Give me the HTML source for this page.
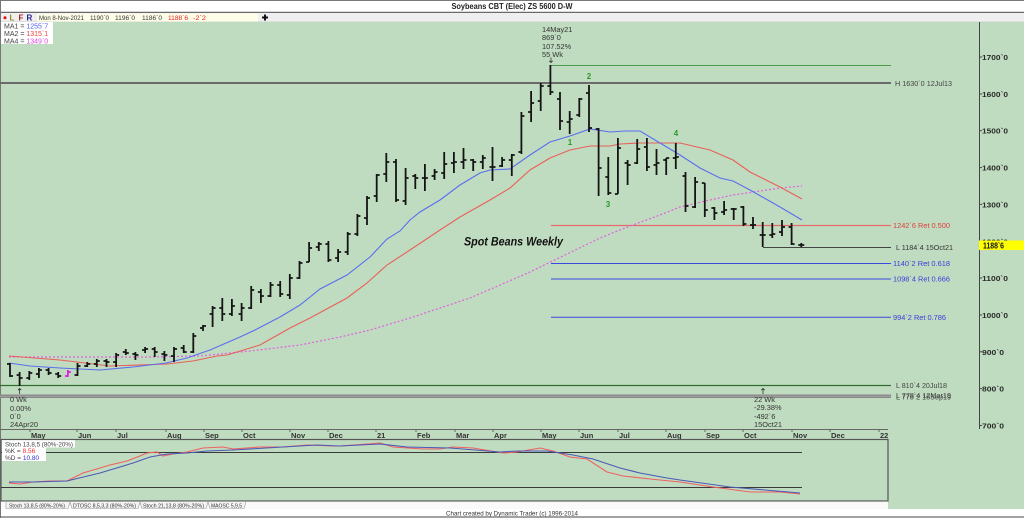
<!DOCTYPE html>
<html><head><meta charset="utf-8"><style>
html,body{margin:0;padding:0;background:#fff;}
svg{display:block;font-family:"Liberation Sans",sans-serif;}
</style></head><body>
<svg width="1024" height="518" viewBox="0 0 1024 518" xmlns="http://www.w3.org/2000/svg">
<rect x="0" y="0" width="1024" height="518" fill="#fff"/>
<line x1="0" y1="0.5" x2="1024" y2="0.5" stroke="#7a7a7a"/>
<text x="512" y="9" text-anchor="middle" font-size="8" font-weight="bold" fill="#222" textLength="121" lengthAdjust="spacingAndGlyphs">Soybeans CBT (Elec) ZS 5600 D-W</text>
<line x1="0" y1="12.5" x2="1024" y2="12.5" stroke="#6a6a6a" stroke-width="1.5"/>
<rect x="0" y="13" width="1024" height="9" fill="#efefef"/>
<line x1="0" y1="21.8" x2="1024" y2="21.8" stroke="#d8d8d8" stroke-width="0.8"/>
<circle cx="5" cy="17.7" r="1.5" fill="#e01010"/>
<text x="9.5" y="20.5" font-size="8" font-weight="bold" fill="#8c8c1e">L</text>
<text x="18.5" y="20.5" font-size="8" font-weight="bold" fill="#a82020">F</text>
<text x="26.5" y="20.5" font-size="8" font-weight="bold" fill="#20208c">R</text>
<rect x="37" y="13.5" width="221" height="8" fill="#fefee8"/>
<g font-size="6.8" fill="#333">
<text x="39" y="20" textLength="45" lengthAdjust="spacingAndGlyphs">Mon 8-Nov-2021</text>
<text x="90" y="20" textLength="19" lengthAdjust="spacingAndGlyphs">1190`0</text>
<text x="115" y="20" textLength="20" lengthAdjust="spacingAndGlyphs">1196`0</text>
<text x="142" y="20" textLength="20" lengthAdjust="spacingAndGlyphs">1186`0</text>
<text x="168" y="20" textLength="20" lengthAdjust="spacingAndGlyphs" fill="#e02020">1188`6</text>
<text x="193" y="20" textLength="13" lengthAdjust="spacingAndGlyphs" fill="#e02020">-2`2</text>
</g>
<path d="M262 17.5h6M265 14.5v6" stroke="#111" stroke-width="2"/>
<!-- main green -->
<rect x="1" y="22" width="1023" height="487" fill="#c0dcc0"/>
<line x1="0.5" y1="0" x2="0.5" y2="518" stroke="#777"/>
<!-- MA legend -->
<rect x="1" y="22" width="52" height="22" fill="#fff"/>
<g font-size="7" fill="#444">
<text x="4" y="28.5">MA1 = <tspan fill="#4a5cf0">1255`7</tspan></text>
<text x="4" y="36">MA2 = <tspan fill="#f04040">1315`1</tspan></text>
<text x="4" y="43.5">MA4 = <tspan fill="#e040e0">1349`0</tspan></text>
</g>
<!-- horizontal reference lines -->
<line x1="551" y1="65.5" x2="891" y2="65.5" stroke="#4c9c4c" stroke-width="1"/>
<line x1="0" y1="83" x2="891" y2="83" stroke="#6a6a6a" stroke-width="2"/>
<line x1="551" y1="225.5" x2="891" y2="225.5" stroke="#e66c6c" stroke-width="1.3"/>
<line x1="763" y1="247.5" x2="891" y2="247.5" stroke="#444" stroke-width="1"/>
<line x1="551" y1="263.5" x2="891" y2="263.5" stroke="#3a48e0" stroke-width="1"/>
<line x1="551" y1="279" x2="891" y2="279" stroke="#3a48e0" stroke-width="1"/>
<line x1="551" y1="317.3" x2="891" y2="317.3" stroke="#3a48e0" stroke-width="1"/>
<line x1="0" y1="385.5" x2="891" y2="385.5" stroke="#2e6e2e" stroke-width="1.2"/>
<rect x="0" y="394.5" width="891" height="3.5" fill="#8a8a8a"/>
<line x1="0" y1="396.2" x2="891" y2="396.2" stroke="#b0b0b0" stroke-width="0.6"/>
<g font-size="7.4">
<text x="895" y="86" fill="#444" textLength="57" lengthAdjust="spacingAndGlyphs">H 1630`0 12Jul13</text>
<text x="893" y="228" fill="#e03c3c" textLength="57" lengthAdjust="spacingAndGlyphs">1242`6 Ret 0.500</text>
<text x="896" y="250" fill="#333" textLength="57" lengthAdjust="spacingAndGlyphs">L 1184`4 15Oct21</text>
<text x="893" y="266" fill="#3c3cdc" textLength="57" lengthAdjust="spacingAndGlyphs">1140`2 Ret 0.618</text>
<text x="893" y="281.5" fill="#3c3cdc" textLength="57" lengthAdjust="spacingAndGlyphs">1098`4 Ret 0.666</text>
<text x="893" y="320" fill="#3c3cdc" textLength="53" lengthAdjust="spacingAndGlyphs">994`2 Ret 0.786</text>
<text x="896" y="388" fill="#444" textLength="51" lengthAdjust="spacingAndGlyphs">L 810`4 20Jul18</text>
<text x="896" y="398" fill="#444" textLength="55" lengthAdjust="spacingAndGlyphs">L 778`4 12Mar19</text>
<text x="896" y="399.5" fill="#444" textLength="55" lengthAdjust="spacingAndGlyphs">L 776`2 16Sep19</text>
</g>
<!-- moving averages -->
<polyline fill="none" stroke="#e060e0" stroke-width="1.2" stroke-dasharray="2,2" points="9,357 150,357 200,356 250,351 300,345 340,337 370,330 410,318 470,298 530,272 600,238 630,226 660,215 680,207 710,200 733,195 760,191 780,188 802,186"/>
<polyline fill="none" stroke="#e8605a" stroke-width="1.1" points="9,356 60,360 110,366 167,364 193,361 217,356 227,355 260,345 290,328 310,318 347,298 367,283 387,265 410,250 440,230 460,217 490,200 510,188 530,170 550,158 570,150 590,146 610,146 620,144 640,143 680,143 710,150 733,160 750,172 780,187 802,199"/>
<polyline fill="none" stroke="#5a6ef0" stroke-width="1.1" points="9,363 30,366 60,368 100,370 133,367 166,363 187,358 210,350 240,337 255,330 280,317 300,305 320,289 347,275 370,257 387,239 400,231 410,220 420,212 440,200 460,185 480,173 490,170 510,169 530,155 550,142 570,136 590,129 610,132 625,131 640,131 660,143 680,155 700,168 720,178 733,181 750,190 780,207 802,220"/>
<!-- bars -->
<path fill="none" stroke="#141414" stroke-width="1.8" d="M10 363V377M7 364h3M10 376h3M19.6 372V386M16.6 375h3M19.6 378h3M29.3 371V380M26.3 378h3M29.3 373h3M38.9 368V378M35.9 374h3M38.9 370h3M48.6 368V375M45.6 370h3M48.6 373h3M58.2 372V378M55.2 374h3M58.2 376h3M77.5 363V376M74.5 375h3M77.5 366h3M87.2 362V367M84.2 366h3M87.2 364h3M96.8 359V367M93.8 364h3M96.8 361h3M106.5 359V367M103.5 361h3M106.5 362h3M116.1 353V367M113.1 362h3M116.1 355h3M125.8 349V355M122.8 352h3M125.8 353h3M135.4 352V360M132.4 354h3M135.4 355h3M145.1 347V353M142.1 350h3M145.1 349h3M154.7 347V357M151.7 349h3M154.7 352h3M164.4 351V361M161.4 354h3M164.4 355h3M174 347V362M171 356h3M174 349h3M183.7 345V353M180.7 348h3M183.7 352h3M193.3 333V353M190.3 352h3M193.3 336h3M203 325V331M200 328h3M203 326h3M212.6 306V327M209.6 314h3M212.6 308h3M222.3 298V321M219.3 308h3M222.3 314h3M231.9 299V316M228.9 314h3M231.9 306h3M241.6 303V321M238.6 314h3M241.6 308h3M251.2 286V309M248.2 308h3M251.2 290h3M260.9 289V303M257.9 292h3M260.9 296h3M270.5 282V297M267.5 296h3M270.5 285h3M280.2 281V297M277.2 285h3M280.2 294h3M289.8 274V299M286.8 295h3M289.8 278h3M299.5 261V279M296.5 278h3M299.5 263h3M309.1 242V262M306.1 262h3M309.1 248h3M318.8 242V251M315.8 247h3M318.8 244h3M328.4 241V262M325.4 244h3M328.4 260h3M338.1 249V262M335.1 258h3M338.1 252h3M347.7 232V255M344.7 252h3M347.7 234h3M357.4 214V236M354.4 234h3M357.4 216h3M367 196V225M364 218h3M367 198h3M376.7 174V202M373.7 196h3M376.7 175h3M386.3 153V182M383.3 174h3M386.3 162h3M396 159V202M393 162h3M396 200h3M405.6 168V205M402.6 201h3M405.6 178h3M415.3 174V189M412.3 176h3M415.3 178h3M424.9 164V191M421.9 178h3M424.9 178h3M434.6 169V180M431.6 176h3M434.6 172h3M444.2 152V179M441.2 173h3M444.2 164h3M453.9 152V173M450.9 163h3M453.9 162h3M463.5 148V169M460.5 162h3M463.5 160h3M473.2 159V171M470.2 160h3M473.2 162h3M482.8 155V169M479.8 162h3M482.8 158h3M492.5 147V181M489.5 167h3M492.5 167h3M502.1 157V167M499.1 166h3M502.1 160h3M511.8 154V176M508.8 160h3M511.8 155h3M521.4 112V154M518.4 152h3M521.4 116h3M531.1 91V122M528.1 112h3M531.1 103h3M540.7 83V111M537.7 101h3M540.7 86h3M550.4 65V95M547.4 86h3M550.4 92h3M560 92V130M557 99h3M560 121h3M569.7 111V134M566.7 122h3M569.7 119h3M579.3 98V117M576.3 115h3M579.3 99h3M589 85V132M586 93h3M589 128h3M598.6 128V196M595.6 129h3M598.6 168h3M608.3 157V195M605.3 177h3M608.3 193h3M617.9 138V194M614.9 194h3M617.9 148h3M627.6 160V185M624.6 163h3M627.6 165h3M637.2 139V164M634.2 163h3M637.2 149h3M646.9 138V171M643.9 147h3M646.9 167h3M656.5 149V175M653.5 165h3M656.5 163h3M666.2 158V175M663.2 160h3M666.2 158h3M675.8 143V169M672.8 158h3M675.8 157h3M685.5 172V212M682.5 176h3M685.5 206h3M695.1 177V208M692.1 207h3M695.1 182h3M704.8 183V217M701.8 183h3M704.8 210h3M714.4 207V220M711.4 208h3M714.4 213h3M724.1 201V215M721.1 212h3M724.1 210h3M733.7 208V220M730.7 209h3M733.7 209h3M743.4 206V226M740.4 207h3M743.4 224h3M753 217V229M750 225h3M753 225h3M762.7 222V247M759.7 235h3M762.7 235h3M772.3 223V238M769.3 235h3M772.3 234h3M782 220V236M779 232h3M782 227h3M791.6 223V245M788.6 227h3M791.6 244h3M801.3 243V247M798.3 245h3M801.3 245h3"/>
<path fill="none" stroke="#e020e0" stroke-width="1.8" d="M67.9 370V377M64.9 376h3M67.9 372h3"/>
<!-- wave labels -->
<g font-size="8" font-weight="bold" fill="#2a9a2a" text-anchor="middle">
<text x="570" y="145">1</text>
<text x="589" y="79">2</text>
<text x="608" y="207">3</text>
<text x="676" y="136">4</text>
</g>
<text x="464" y="245.5" font-size="12" font-weight="bold" font-style="italic" fill="#111" textLength="99" lengthAdjust="spacingAndGlyphs">Spot Beans Weekly</text>
<!-- annotations -->
<g font-size="7.4" fill="#333">
<text x="542" y="32">14May21</text>
<text x="542" y="40">869`0</text>
<text x="542" y="49">107.52%</text>
<text x="542" y="57">55 Wk</text>
<text x="10" y="402">0 Wk</text>
<text x="10" y="411">0.00%</text>
<text x="10" y="419">0`0</text>
<text x="10" y="427">24Apr20</text>
<text x="754" y="402">22 Wk</text>
<text x="754" y="410">-29.38%</text>
<text x="754" y="419">-492`6</text>
<text x="754" y="427">15Oct21</text>
</g>
<path d="M551 57.5V62.5M549.3 60.8l1.7 1.7 1.7-1.7M19.6 388.5V394M17.9 390.2l1.7-1.7 1.7 1.7M763 388.5V394M761.3 390.2l1.7-1.7 1.7 1.7" fill="none" stroke="#333" stroke-width="0.8"/>
<!-- price axis -->
<line x1="979.5" y1="22" x2="979.5" y2="429" stroke="#444" stroke-width="1"/>
<g stroke="#444" stroke-width="1">
<line x1="979" y1="57" x2="982" y2="57"/><line x1="979" y1="94" x2="982" y2="94"/><line x1="979" y1="130.7" x2="982" y2="130.7"/><line x1="979" y1="167.6" x2="982" y2="167.6"/><line x1="979" y1="204.4" x2="982" y2="204.4"/><line x1="979" y1="241.3" x2="982" y2="241.3"/><line x1="979" y1="278" x2="982" y2="278"/><line x1="979" y1="315" x2="982" y2="315"/><line x1="979" y1="351.8" x2="982" y2="351.8"/><line x1="979" y1="388.7" x2="982" y2="388.7"/><line x1="979" y1="425.5" x2="982" y2="425.5"/>
</g>
<g font-size="7.6" font-weight="bold" fill="#2a2a2a">
<text x="982" y="60" textLength="26" lengthAdjust="spacingAndGlyphs">1700`0</text>
<text x="982" y="97" textLength="26" lengthAdjust="spacingAndGlyphs">1600`0</text>
<text x="982" y="133.7" textLength="26" lengthAdjust="spacingAndGlyphs">1500`0</text>
<text x="982" y="170.6" textLength="26" lengthAdjust="spacingAndGlyphs">1400`0</text>
<text x="982" y="207.4" textLength="26" lengthAdjust="spacingAndGlyphs">1300`0</text>
<text x="982" y="244.3" textLength="26" lengthAdjust="spacingAndGlyphs">1200`0</text>
<text x="982" y="281" textLength="26" lengthAdjust="spacingAndGlyphs">1100`0</text>
<text x="982" y="318" textLength="26" lengthAdjust="spacingAndGlyphs">1000`0</text>
<text x="982" y="354.8" textLength="22" lengthAdjust="spacingAndGlyphs">900`0</text>
<text x="982" y="391.7" textLength="22" lengthAdjust="spacingAndGlyphs">800`0</text>
<text x="982" y="428.5" textLength="22" lengthAdjust="spacingAndGlyphs">700`0</text>
</g>
<rect x="979" y="240.5" width="45" height="9.5" fill="#ffff00"/>
<text x="983" y="248.3" font-size="8" font-weight="bold" fill="#111" textLength="21" lengthAdjust="spacingAndGlyphs">1188`6</text>
<!-- month axis -->
<line x1="0" y1="429.5" x2="888" y2="429.5" stroke="#666" stroke-width="1"/>
<g stroke="#666" stroke-width="1">
<line x1="30" y1="429" x2="30" y2="432"/><line x1="77" y1="429" x2="77" y2="432"/><line x1="116" y1="429" x2="116" y2="432"/><line x1="166" y1="429" x2="166" y2="432"/><line x1="204" y1="429" x2="204" y2="432"/><line x1="242" y1="429" x2="242" y2="432"/><line x1="290" y1="429" x2="290" y2="432"/><line x1="328" y1="429" x2="328" y2="432"/><line x1="376" y1="429" x2="376" y2="432"/><line x1="416" y1="429" x2="416" y2="432"/><line x1="455" y1="429" x2="455" y2="432"/><line x1="493" y1="429" x2="493" y2="432"/><line x1="541" y1="429" x2="541" y2="432"/><line x1="579" y1="429" x2="579" y2="432"/><line x1="618" y1="429" x2="618" y2="432"/><line x1="666" y1="429" x2="666" y2="432"/><line x1="705" y1="429" x2="705" y2="432"/><line x1="743" y1="429" x2="743" y2="432"/><line x1="792" y1="429" x2="792" y2="432"/><line x1="830" y1="429" x2="830" y2="432"/><line x1="879" y1="429" x2="879" y2="432"/>
</g>
<g font-size="7.5" font-weight="bold" fill="#333">
<text x="31" y="438">May</text><text x="78" y="438">Jun</text><text x="117" y="438">Jul</text><text x="167" y="438">Aug</text><text x="205" y="438">Sep</text><text x="243" y="438">Oct</text><text x="291" y="438">Nov</text><text x="329" y="438">Dec</text><text x="377" y="438">21</text><text x="417" y="438">Feb</text><text x="456" y="438">Mar</text><text x="494" y="438">Apr</text><text x="542" y="438">May</text><text x="580" y="438">Jun</text><text x="619" y="438">Jul</text><text x="667" y="438">Aug</text><text x="706" y="438">Sep</text><text x="744" y="438">Oct</text><text x="793" y="438">Nov</text><text x="831" y="438">Dec</text><text x="880" y="438">22</text>
</g>
<!-- stoch panel -->
<rect x="1" y="439.5" width="887" height="61.5" fill="#c0dcc0" stroke="#555" stroke-width="1.2"/>
<line x1="1" y1="452.5" x2="802" y2="452.5" stroke="#3a3a3a" stroke-width="1"/>
<line x1="1" y1="487.5" x2="802" y2="487.5" stroke="#3a3a3a" stroke-width="1"/>
<polyline fill="none" stroke="#f06060" stroke-width="1.1" points="9,483 20,484 33,482 50,481 67,481 83,473 100,468 110,465 127,461 140,456 147,453 157,452 163,456 173,454 187,452 203,448 223,447 233,449 260,447 283,447 307,445 333,446 340,446 380,443 393,447 423,449 440,449 453,447 473,448 503,453 517,452 540,448 553,451 570,457 587,459 607,472 623,476 650,479 680,482 713,487 750,492 780,492 800,494"/>
<polyline fill="none" stroke="#4a5ab8" stroke-width="1.1" points="9,482 33,482 67,481 100,473 133,463 150,457 167,454 187,453 207,451 233,450 283,447 317,445 340,446 380,444 407,447 450,448 500,452 517,451 547,451 573,455 593,459 620,468 640,473 667,478 680,480 730,487 800,493"/>
<rect x="2" y="440.2" width="73" height="7.3" fill="#fff"/>
<rect x="2" y="447.5" width="44" height="13.5" fill="#fff"/>
<g font-size="6.5" fill="#444">
<text x="5" y="446.3" textLength="68" lengthAdjust="spacingAndGlyphs">Stoch 13,8,5 (80%-20%)</text>
<text x="5" y="453">%K = <tspan fill="#f03030">8.56</tspan></text>
<text x="5" y="460">%D = <tspan fill="#3030c0">10.80</tspan></text>
</g>
<!-- bottom strip -->
<rect x="1" y="501.6" width="887" height="15" fill="#fafafa"/>
<rect x="888" y="509" width="136" height="8" fill="#fff"/>
<rect x="1" y="509" width="887" height="8" fill="#fff"/>
<g fill="#f4f4f4" stroke="#9a9a9a" stroke-width="0.6">
<path d="M6 502V508.5H68L70 502"/>
<path d="M70 502L72 508.5H138L140 502"/>
<path d="M140 502L142 508.5H206L208 502"/>
<path d="M208 502L210 508.5H244L246 502"/>
</g>
<g font-size="5.8" fill="#333">
<text x="9" y="507.3" textLength="56" lengthAdjust="spacingAndGlyphs">Stoch 13,8,5 (80%-20%)</text>
<text x="73" y="507.3" textLength="63" lengthAdjust="spacingAndGlyphs">DTOSC 8,5,3,3 (80%-20%)</text>
<text x="143" y="507.3" textLength="61" lengthAdjust="spacingAndGlyphs">Stoch 21,13,8 (80%-20%)</text>
<text x="211" y="507.3" textLength="31" lengthAdjust="spacingAndGlyphs">MAOSC 5,9,5</text>
</g>
<text x="512" y="515.5" text-anchor="middle" font-size="6.6" fill="#333" textLength="132" lengthAdjust="spacingAndGlyphs">Chart created by Dynamic Trader  (c) 1996-2014</text>
<line x1="0" y1="517" x2="1024" y2="517" stroke="#6a6a6a" stroke-width="1.2"/>
</svg>
</body></html>
